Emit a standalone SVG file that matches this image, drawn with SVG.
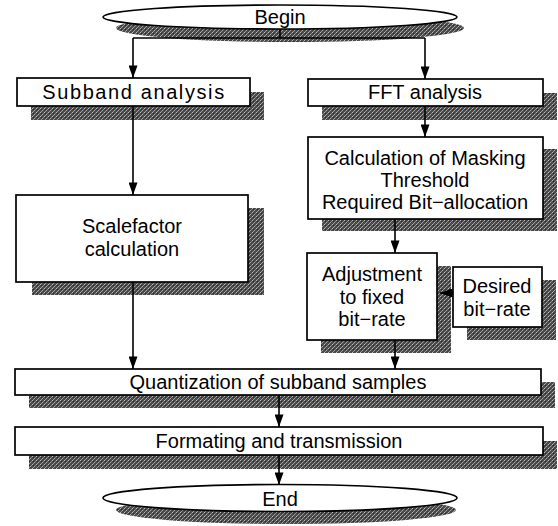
<svg xmlns="http://www.w3.org/2000/svg" width="558" height="526" viewBox="0 0 558 526">
<style>
.box{fill:#fff;stroke:#000;stroke-width:1.7}
.sh{fill:url(#halftone)}
.t{font-family:"Liberation Sans",Arial,sans-serif;font-size:20px;fill:#000;text-anchor:middle}
.c{fill:none;stroke:#000;stroke-width:1.6}
.a{marker-end:url(#arr)}
</style>
<defs>
<pattern id="halftone" width="4" height="4" patternUnits="userSpaceOnUse">
<rect width="4" height="4" fill="#4a4a4a"/>
<rect x="0" y="0" width="1" height="1" fill="#bbb"/>
<rect x="2" y="2" width="1" height="1" fill="#aaa"/>
<rect x="3" y="1" width="1" height="1" fill="#888"/>
<rect x="1" y="3" width="1" height="1" fill="#999"/>
<rect x="1" y="1" width="1" height="1" fill="#2a2a2a"/>
</pattern>
<marker id="arr" viewBox="0 0 14 10" refX="14" refY="5" markerWidth="14" markerHeight="9" markerUnits="userSpaceOnUse" orient="auto">
<path d="M0,0 L14,5 L0,10 z" fill="#000"/>
</marker>
</defs>
<g id="begin">
<ellipse class="sh" cx="290" cy="28" rx="174" ry="14"/>
<ellipse class="box" cx="280" cy="17" rx="177" ry="12"/>
<text class="t" x="280" y="24">Begin</text>
</g>
<g id="subband">
<rect class="sh" x="31" y="92" width="233" height="28"/>
<rect class="box" x="17" y="78" width="233" height="28"/>
<text class="t" x="134" y="99" letter-spacing="1.6">Subband analysis</text>
</g>
<g id="fft">
<rect class="sh" x="322" y="93" width="235" height="27"/>
<rect class="box" x="308" y="79" width="235" height="27"/>
<text class="t" x="425" y="99">FFT analysis</text>
</g>
<g id="masking">
<rect class="sh" x="322" y="149" width="235" height="82"/>
<rect class="box" x="308" y="137" width="235" height="82"/>
<text class="t" x="425" y="165">Calculation of Masking</text>
<text class="t" x="425" y="187">Threshold</text>
<text class="t" x="425" y="209">Required Bit−allocation</text>
</g>
<g id="scalefactor">
<rect class="sh" x="32" y="208" width="232" height="87"/>
<rect class="box" x="16" y="195" width="232" height="87"/>
<text class="t" x="132" y="233">Scalefactor</text>
<text class="t" x="132" y="256">calculation</text>
</g>
<g id="adjustment">
<rect class="sh" x="321" y="266" width="130" height="87"/>
<rect class="box" x="307" y="253" width="130" height="87"/>
<text class="t" x="372" y="281">Adjustment</text>
<text class="t" x="372" y="304">to fixed</text>
<text class="t" x="372" y="326">bit−rate</text>
</g>
<g id="desired">
<rect class="sh" x="467" y="280" width="89" height="60"/>
<rect class="box" x="453" y="267" width="89" height="60"/>
<text class="t" x="497" y="293">Desired</text>
<text class="t" x="497" y="316">bit−rate</text>
</g>
<g id="quantization">
<rect class="sh" x="29" y="382" width="526" height="26"/>
<rect class="box" x="15" y="369" width="526" height="26"/>
<text class="t" x="278" y="389">Quantization of subband samples</text>
</g>
<g id="formatting">
<rect class="sh" x="29" y="441" width="528" height="28"/>
<rect class="box" x="15" y="427" width="528" height="28"/>
<text class="t" x="279" y="448">Formating and transmission</text>
</g>
<g id="end">
<ellipse class="sh" cx="286" cy="510" rx="170" ry="14"/>
<ellipse class="box" cx="280" cy="498" rx="177" ry="13.5"/>
<text class="t" x="280" y="506">End</text>
</g>
<g id="connectors">
<path class="c" d="M280 29 V38 M133 38 H425"/>
<path class="c a" d="M133 38 V78"/>
<path class="c a" d="M425 38 V79"/>
<path class="c a" d="M133 106 V195"/>
<path class="c a" d="M133 282 V369"/>
<path class="c a" d="M425 106 V137"/>
<path class="c a" d="M395 219 V253"/>
<path class="c a" d="M395 340 V369"/>
<path class="c a" d="M453 293 H440"/>
<path class="c a" d="M279 395 V427"/>
<path class="c a" d="M279 455 V485"/>
</g>
</svg>
